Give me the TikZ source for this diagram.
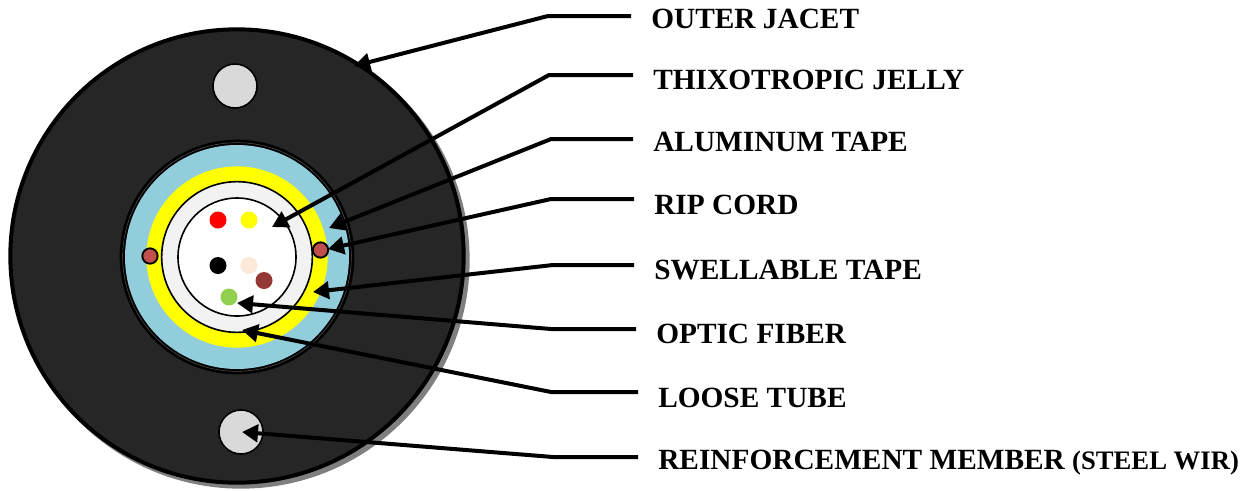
\documentclass[tikz,border=0pt]{standalone}
\usepackage{fontspec}
\setmainfont{Liberation Serif}
\definecolor{jacket}{HTML}{262626}
\definecolor{shadowgray}{HTML}{7F7F7F}
\definecolor{armor}{HTML}{92CDDC}
\definecolor{swell}{HTML}{FFFF00}
\definecolor{tube}{HTML}{F2F2F2}
\definecolor{member}{HTML}{D9D9D9}
\definecolor{cord}{HTML}{C0504D}
\definecolor{fibrebrown}{HTML}{953735}
\definecolor{fibregreen}{HTML}{92D050}
\definecolor{fibrepeach}{HTML}{FDE9D9}
\usetikzlibrary{arrows.meta, calc}

\begin{document}
\begin{tikzpicture}[
  x=0.75pt, y=-0.75pt,
  disc/.style={circle, inner sep=0pt, outer sep=0pt, draw=black},
  fibre/.style={disc, draw=none, minimum size=12.75pt},
  ripcord/.style={disc, fill=cord, line width=1.4pt, minimum size=11.5pt},
  steel/.style={disc, fill=member, line width=1.2pt, minimum size=33pt},
  tag/.style={anchor=west, inner xsep=15pt, inner ysep=0pt, font=\fontsize{22}{22}\selectfont\bfseries},
  lead/.style={-{Triangle[length=12pt, width=13pt]}, line width=3pt, black},
]
\useasboundingbox (0,0) rectangle (1252,490);

% cable body
\node[disc, draw=none, fill=shadowgray, minimum size=343pt] (shadow) at (241,260) {};
\node[disc, fill=jacket, line width=3pt, minimum size=340pt] (outer) at (237,256) {};
\node[steel] (topwire) at (235,86) {};
\node[steel] (botwire) at (241,432) {};

% core layers
\node[disc, fill=black, draw=none, minimum size=176pt] (shell) at (237,257) {};
\node[disc, draw=jacket!80!white, line width=0.4pt, minimum size=171.5pt] (shellring) at (237,257) {};
\node[disc, fill=armor, draw=none, minimum size=168pt] (alu) at (237,257) {};
\node[disc, fill=swell, draw=none, minimum size=136pt] (swl) at (237,257) {};
\node[disc, fill=tube, line width=1.2pt, minimum size=113pt] (loose) at (237,257) {};
\node[disc, fill=white, line width=1.2pt, minimum size=88.5pt] (jelly) at (237,257) {};

\node[ripcord] (cordl) at (150,256) {};
\node[ripcord] (cordr) at (320.5,250) {};

\node[fibre, fill=red] (fibrea) at (218,220) {};
\node[fibre, fill=swell] (fibreb) at (249,220) {};
\node[fibre, fill=black] (fibrec) at (218,265.5) {};
\node[fibre, fill=fibrepeach] (fibred) at (249,265.5) {};
\node[fibre, fill=fibrebrown] (fibree) at (264,280.5) {};
\node[fibre, fill=fibregreen] (fibref) at (229,297) {};

% labels
\node[tag] (outertag) at (631,19) {OUTER JACET};
\node[tag] (jellytag) at (633,80) {THIXOTROPIC JELLY};
\node[tag] (alutag) at (633,142) {ALUMINUM TAPE};
\node[tag] (cordtag) at (634,205) {RIP CORD};
\node[tag] (swelltag) at (634,270) {SWELLABLE TAPE};
\node[tag] (fibretag) at (636,334) {OPTIC FIBER};
\node[tag] (loosetag) at (638,398) {LOOSE TUBE};
\node[tag] (wiretag) at (638,463) {REINFORCEMENT MEMBER {\fontsize{20}{20}\selectfont (STEEL WIR)}};

% bends and tips
\coordinate (outerbend) at (548,16);
\coordinate (jellybend) at (549,75);
\coordinate (alubend) at (551,139);
\coordinate (cordbend) at (551,199);
\coordinate (swellbend) at (553,265);
\coordinate (fibrebend) at (551,329);
\coordinate (loosebend) at (551,392);
\coordinate (wirebend) at (553,457);
\coordinate (outertip) at (354,66);
\coordinate (jellytip) at (272,227);
\coordinate (alutip) at (329,228);
\coordinate (cordtip) at (328,249);
\coordinate (swelltip) at (313,292);
\coordinate (fibretip) at (237,303);
\coordinate (loosetip) at (242,330);
\coordinate (wiretip) at (242,432);

\draw[lead] (outertag.west |- outerbend) -- (outerbend) -- (outertip);
\draw[lead] (jellytag.west |- jellybend) -- (jellybend) -- (jellytip);
\draw[lead] (alutag.west |- alubend) -- (alubend) -- (alutip);
\draw[lead] (cordtag.west |- cordbend) -- (cordbend) -- (cordtip);
\draw[lead] (swelltag.west |- swellbend) -- (swellbend) -- (swelltip);
\draw[lead] (fibretag.west |- fibrebend) -- (fibrebend) -- (fibretip);
\draw[lead] (loosetag.west |- loosebend) -- (loosebend) -- (loosetip);
\draw[lead] (wiretag.west |- wirebend) -- (wirebend) -- (wiretip);
\end{tikzpicture}
\end{document}
